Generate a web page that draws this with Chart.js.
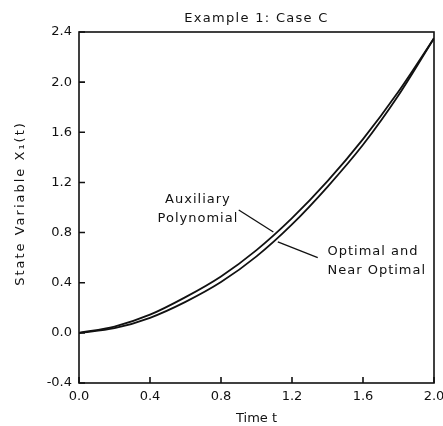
<!DOCTYPE html>
<html>
<head>
<meta charset="utf-8">
<script src="https://cdn.jsdelivr.net/npm/chart.js@4/dist/chart.umd.min.js"></script>
<style>
  html, body { margin: 0; padding: 0; background: #fff; }
  #wrap { width: 443px; height: 426px; }
</style>
</head>
<body>
<div id="wrap"><canvas id="chart" width="443" height="426"></canvas></div>
<script>
// values
const timeT = [0, 0.2, 0.4, 0.6, 0.8, 1.0, 1.2, 1.4, 1.6, 1.8, 2.0];
const auxiliary = [0, 0.05, 0.145, 0.285, 0.45, 0.66, 0.915, 1.21, 1.545, 1.925, 2.35];
const optimal = [0, 0.037, 0.12, 0.247, 0.405, 0.61, 0.865, 1.165, 1.5, 1.895, 2.35];
const xTicks = [0, 0.4, 0.8, 1.2, 1.6, 2.0];
const yTicks = [-0.4, 0, 0.4, 0.8, 1.2, 1.6, 2.0, 2.4];

const chartTitle = 'Example 1: Case C';
const yTitle = 'State Variable X\u2081(t)';

// curve labels with their leader lines (data coordinates)
const notes = [
    { lines: ['Auxiliary', 'Polynomial'], x: 0.67, y: 1.06, align: 'center', from: [0.9, 0.98], to: [1.095, 0.805] },
    { lines: ['Optimal and', 'Near Optimal'], x: 1.4, y: 0.65, align: 'left', from: [1.12, 0.725], to: [1.345, 0.6] }
];

const font = '"DejaVu Sans", sans-serif';

const toPoints = ys => timeT.map((t, i) => ({ x: t, y: ys[i] }));

const frame = {
    id: 'frame',
    afterDraw(chart) {
        const { ctx, chartArea: a, scales } = chart;
        ctx.save();
        ctx.strokeStyle = '#111';
        ctx.lineWidth = 1.6;
        ctx.strokeRect(a.left, a.top, a.right - a.left, a.bottom - a.top);
        // inward tick marks
        ctx.beginPath();
        xTicks.forEach(v => {
            const px = scales.x.getPixelForValue(v);
            ctx.moveTo(px, a.bottom);
            ctx.lineTo(px, a.bottom - 6);
        });
        yTicks.forEach(v => {
            const py = scales.y.getPixelForValue(v);
            ctx.moveTo(a.left, py);
            ctx.lineTo(a.left + 6, py);
        });
        ctx.stroke();

        ctx.fillStyle = '#111';
        ctx.textBaseline = 'middle';
        // title
        ctx.font = '13px ' + font;
        ctx.letterSpacing = '1.3px';
        ctx.textAlign = 'center';
        ctx.fillText(chartTitle, (a.left + a.right) / 2, 19);
        // y axis title
        ctx.save();
        ctx.translate(21, (a.top + a.bottom) / 2 - 4);
        ctx.rotate(-Math.PI / 2);
        ctx.letterSpacing = '2px';
        ctx.fillText(yTitle, 0, 0);
        ctx.restore();

        // notes
        ctx.font = '13px ' + font;
        ctx.letterSpacing = '1px';
        ctx.lineWidth = 1.3;
        notes.forEach(n => {
            ctx.textAlign = n.align;
            const px = scales.x.getPixelForValue(n.x);
            const py = scales.y.getPixelForValue(n.y);
            n.lines.forEach((s, i) => ctx.fillText(s, px, py + i * 19));
            ctx.beginPath();
            ctx.moveTo(scales.x.getPixelForValue(n.from[0]), scales.y.getPixelForValue(n.from[1]));
            ctx.lineTo(scales.x.getPixelForValue(n.to[0]), scales.y.getPixelForValue(n.to[1]));
            ctx.stroke();
        });
        ctx.restore();
    }
};

new Chart(document.getElementById('chart'), {
    type: 'line',
    data: {
        datasets: [
            { label: 'Auxiliary Polynomial', data: toPoints(auxiliary), borderColor: '#111', borderWidth: 1.8, pointRadius: 0, tension: 0.4, cubicInterpolationMode: 'monotone' },
            { label: 'Optimal and Near Optimal', data: toPoints(optimal), borderColor: '#111', borderWidth: 1.8, pointRadius: 0, tension: 0.4, cubicInterpolationMode: 'monotone' }
        ]
    },
    options: {
        responsive: false,
        animation: false,
        layout: { padding: { top: 32, right: 9, bottom: 0, left: 0 } },
        plugins: {
            legend: { display: false },
            tooltip: { enabled: false },
            title: { display: false }
        },
        scales: {
            x: {
                type: 'linear',
                min: 0,
                max: 2,
                afterBuildTicks: s => { s.ticks = xTicks.map(v => ({ value: v })); },
                afterFit: s => { s.height = 43; s.paddingRight = 0; s.paddingLeft = 0; },
                ticks: { color: '#111', font: { family: font, size: 13 }, padding: 6, maxRotation: 0, callback: v => v.toFixed(1) },
                grid: { drawOnChartArea: false, drawTicks: false },
                border: { display: false },
                title: { display: true, text: 'Time t', color: '#111', font: { family: font, size: 13 }, padding: { top: 1, bottom: 0 } }
            },
            y: {
                min: -0.4,
                max: 2.4,
                afterBuildTicks: s => { s.ticks = yTicks.map(v => ({ value: v })); },
                afterFit: s => { s.width = 79; s.paddingTop = 0; s.paddingBottom = 0; },
                ticks: { color: '#111', font: { family: font, size: 13 }, padding: 7, callback: v => v.toFixed(1) },
                grid: { drawOnChartArea: false, drawTicks: false },
                border: { display: false },
                title: { display: false }
            }
        }
    },
    plugins: [frame]
});
</script>
</body>
</html>
